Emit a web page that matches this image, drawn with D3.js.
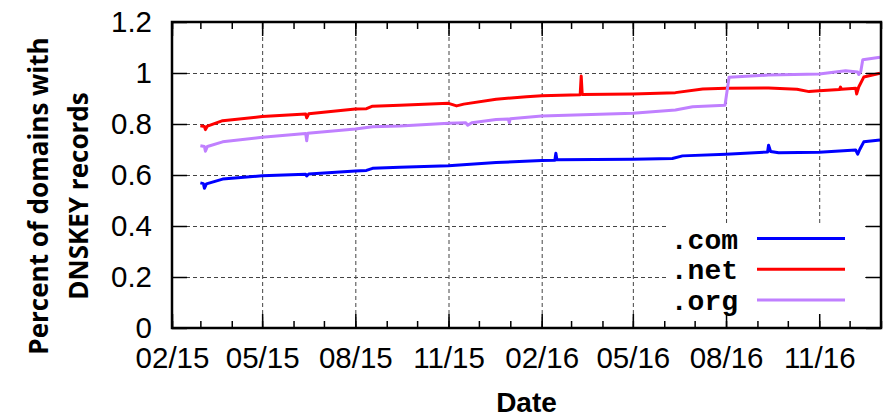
<!DOCTYPE html>
<html>
<head>
<meta charset="utf-8">
<script src="https://cdn.jsdelivr.net/npm/d3@7"></script>
<style>
  body { margin: 0; background: #fff; }
  .grid line { stroke: #444; stroke-width: 1; stroke-dasharray: 4,3; }
  .axis text { font-family: "Liberation Sans", Arial, sans-serif; font-size: 29.5px; fill: #000; }
  .axis line { stroke: #000; stroke-width: 1.5; }
</style>
</head>
<body>
<svg id="chart" width="885" height="418"></svg>
<script>
// series data
var comDates = ["2015-03-01","2015-03-04","2015-03-05","2015-03-07","2015-03-23","2015-05-01","2015-06-13","2015-06-14","2015-06-16",
                "2015-08-01","2015-08-12","2015-08-18","2015-09-14","2015-11-01","2015-12-18","2016-02-01","2016-02-14","2016-02-15",
                "2016-02-16","2016-05-01","2016-06-09","2016-06-19","2016-08-01","2016-09-11","2016-09-12","2016-09-14","2016-09-22",
                "2016-11-01","2016-12-07","2016-12-09","2016-12-11","2016-12-15","2016-12-31"];
var comValues = [0.569,0.566,0.548,0.565,0.584,0.597,0.603,0.596,0.604,
                 0.616,0.618,0.626,0.630,0.636,0.649,0.657,0.658,0.685,
                 0.660,0.662,0.665,0.675,0.681,0.690,0.717,0.692,0.687,
                 0.689,0.698,0.682,0.700,0.730,0.737];

var netDates = ["2015-03-01","2015-03-05","2015-03-06","2015-03-08","2015-03-23","2015-05-01","2015-06-13","2015-06-14","2015-06-16",
                "2015-08-01","2015-08-12","2015-08-18","2015-09-14","2015-11-01","2015-11-09","2015-11-16","2015-12-18","2016-01-17",
                "2016-02-01","2016-03-10","2016-03-11","2016-03-12","2016-05-01","2016-06-12","2016-07-09","2016-08-01","2016-09-12",
                "2016-10-10","2016-10-22","2016-11-01","2016-11-21","2016-11-22","2016-11-23","2016-12-07","2016-12-08","2016-12-10",
                "2016-12-15","2016-12-31"];
var netValues = [0.793,0.790,0.778,0.792,0.813,0.829,0.839,0.824,0.840,
                 0.859,0.860,0.870,0.874,0.881,0.871,0.878,0.897,0.907,
                 0.911,0.915,0.988,0.916,0.918,0.923,0.937,0.940,0.941,
                 0.936,0.927,0.930,0.935,0.945,0.936,0.940,0.918,0.945,
                 0.984,0.999];

var orgDates = ["2015-03-01","2015-03-05","2015-03-06","2015-03-08","2015-03-23","2015-05-01","2015-06-13","2015-06-14","2015-06-15",
                "2015-08-01","2015-08-18","2015-09-14","2015-11-01","2015-11-18","2015-11-20","2015-11-24","2015-12-18","2015-12-30",
                "2015-12-31","2016-01-01","2016-02-01","2016-05-01","2016-06-12","2016-06-29","2016-07-31","2016-08-04","2016-09-12",
                "2016-11-01","2016-11-27","2016-12-09","2016-12-10","2016-12-12","2016-12-14","2016-12-31"];
var orgValues = [0.715,0.712,0.693,0.712,0.730,0.748,0.763,0.734,0.764,
                 0.780,0.789,0.792,0.803,0.805,0.795,0.805,0.818,0.820,
                 0.805,0.821,0.831,0.842,0.855,0.868,0.874,0.983,0.992,
                 0.996,1.009,1.004,0.994,1.005,1.052,1.062];

var seriesNames = [".com", ".net", ".org"];
var seriesColors = ["#0000ff", "#ff0000", "#c080ff"];

var xTickLabels = ["02/15","05/15","08/15","11/15","02/16","05/16","08/16","11/16"];
var yTicks = [0, 0.2, 0.4, 0.6, 0.8, 1, 1.2];

var parseDay = d3.timeParse("%Y-%m-%d"),
    parseTick = d3.timeParse("%m/%y"),
    fmtTick = d3.timeFormat("%m/%y");

var margin = {top: 22, right: 4, bottom: 90, left: 172},
    width = 885 - margin.left - margin.right,
    height = 418 - margin.top - margin.bottom;

var svg = d3.select("#chart");
var g = svg.append("g").attr("transform", "translate(" + margin.left + "," + margin.top + ")");

var x = d3.scaleTime()
    .domain([new Date(2015, 1, 1), new Date(2017, 0, 1)])
    .range([0, width]);
var y = d3.scaleLinear().domain([0, 1.2]).range([height, 0]);

var majorDates = xTickLabels.map(function(s) { return parseTick(s); });
var minorDates = d3.timeMonth.range(new Date(2015, 1, 1), new Date(2017, 0, 2));

// grid
g.append("g").attr("class", "grid")
    .attr("transform", "translate(0," + height + ")")
    .call(d3.axisBottom(x).tickValues(majorDates).tickSize(-height).tickFormat(""))
    .call(function(s) { s.select(".domain").remove(); });
g.append("g").attr("class", "grid")
    .call(d3.axisLeft(y).tickValues(yTicks).tickSize(-width).tickFormat(""))
    .call(function(s) { s.select(".domain").remove(); });

// legend background hides the grid under it
g.append("rect")
    .attr("x", 666 - margin.left).attr("y", 223 - margin.top)
    .attr("width", 196).attr("height", height - (223 - margin.top))
    .attr("fill", "#fff");

// series
var series = [
  {name: seriesNames[0], color: seriesColors[0], dates: comDates, values: comValues},
  {name: seriesNames[1], color: seriesColors[1], dates: netDates, values: netValues},
  {name: seriesNames[2], color: seriesColors[2], dates: orgDates, values: orgValues}
];

var line = d3.line()
    .x(function(d) { return x(d[0]); })
    .y(function(d) { return y(d[1]); });

g.selectAll(".series").data(series).enter().append("path")
    .attr("class", "series")
    .attr("fill", "none")
    .attr("stroke", function(d) { return d.color; })
    .attr("stroke-width", 3)
    .attr("stroke-linejoin", "round")
    .attr("d", function(d) {
      return line(d.dates.map(function(s, i) { return [parseDay(s), d.values[i]]; }));
    });

// axes: ticks point inward, mirrored on all sides
function noDomain(s) { s.select(".domain").remove(); }

g.append("g").attr("class", "axis")
    .attr("transform", "translate(0," + height + ")")
    .call(d3.axisBottom(x).tickValues(minorDates).tickSize(-7).tickFormat(""))
    .call(noDomain);
g.append("g").attr("class", "axis")
    .call(d3.axisTop(x).tickValues(minorDates).tickSize(-7).tickFormat(""))
    .call(noDomain);
g.append("g").attr("class", "axis")
    .attr("transform", "translate(0," + height + ")")
    .call(d3.axisBottom(x).tickValues(majorDates).tickSize(-14).tickPadding(19).tickFormat(fmtTick))
    .call(noDomain);
g.append("g").attr("class", "axis")
    .call(d3.axisTop(x).tickValues(majorDates).tickSize(-14).tickFormat(""))
    .call(noDomain);
g.append("g").attr("class", "axis")
    .call(d3.axisLeft(y).tickValues(yTicks).tickSize(-15).tickPadding(20).tickFormat(d3.format("~g")))
    .call(noDomain);
g.append("g").attr("class", "axis")
    .attr("transform", "translate(" + width + ",0)")
    .call(d3.axisRight(y).tickValues(yTicks).tickSize(-15).tickFormat(""))
    .call(noDomain);

g.append("rect")
    .attr("width", width).attr("height", height)
    .attr("fill", "none").attr("stroke", "#000").attr("stroke-width", 2.5);

// legend
var legend = g.selectAll(".legend").data(series).enter().append("g")
    .attr("class", "legend")
    .attr("transform", function(d, i) { return "translate(0," + (238.5 - margin.top + i * 30.8) + ")"; });
legend.append("text")
    .attr("x", 738 - margin.left).attr("y", 10)
    .attr("text-anchor", "end")
    .style("font-family", "'Liberation Mono', 'Courier New', monospace")
    .style("font-size", "28px").style("font-weight", "bold")
    .text(function(d) { return d.name; });
legend.append("line")
    .attr("x1", 757 - margin.left).attr("x2", 845 - margin.left)
    .attr("stroke", function(d) { return d.color; })
    .attr("stroke-width", 3);

// axis titles
svg.append("text")
    .attr("x", margin.left + width / 2).attr("y", 412)
    .attr("text-anchor", "middle")
    .style("font-family", "'Liberation Sans', Arial, sans-serif")
    .style("font-size", "28px").style("font-weight", "bold")
    .text("Date");

var ylab = svg.append("text")
    .attr("transform", "translate(48,196)rotate(-90)")
    .attr("text-anchor", "middle")
    .style("font-family", "'Open Sans', sans-serif")
    .style("font-size", "26px").style("font-weight", "bold");
ylab.append("tspan").attr("x", 0).attr("y", 0).text("Percent of domains with");
ylab.append("tspan").attr("x", 0).attr("y", 40).text("DNSKEY records");
</script>
</body>
</html>
